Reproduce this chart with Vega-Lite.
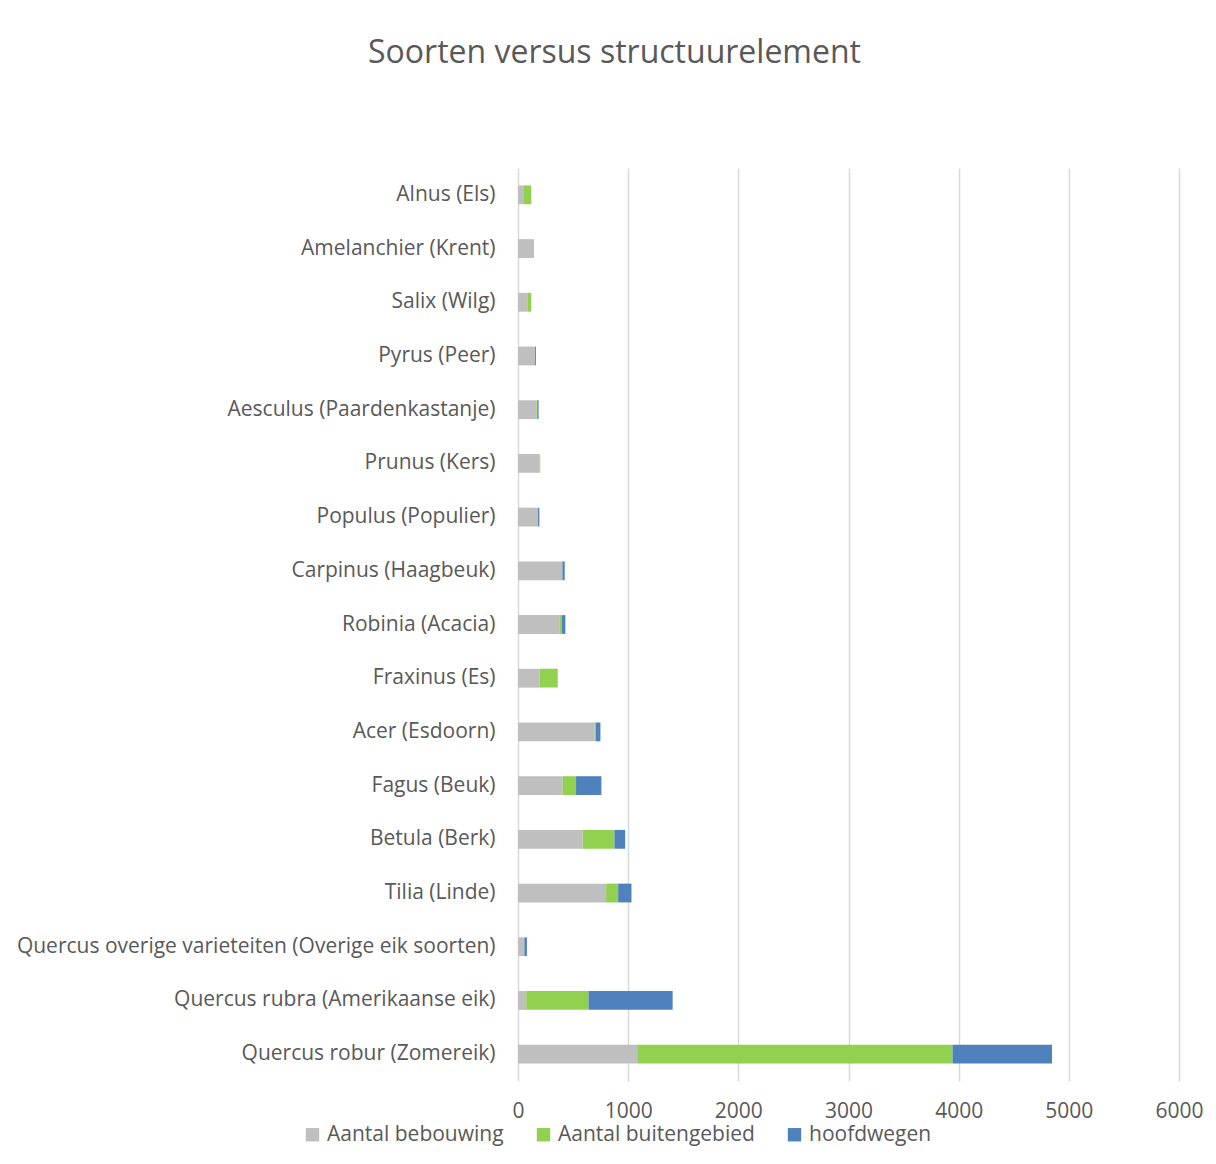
{
  "$schema": "https://vega.github.io/schema/vega-lite/v6.json",
  "width": 661,
  "height": 913,
  "autosize": {"type": "none"},
  "padding": {"left": 518, "top": 168, "right": 37, "bottom": 83},
  "background": "white",
  "title": {
    "text": "Soorten versus structuurelement",
    "fontSize": 32,
    "font": "Open Sans",
    "fontWeight": "normal",
    "color": "#595959",
    "anchor": "middle",
    "dx": -234,
    "offset": 98
  },
  "data": {
    "values": [
      {"soort": "Alnus (Els)", "type": "Aantal bebouwing", "aantal": 48},
      {"soort": "Alnus (Els)", "type": "Aantal buitengebied", "aantal": 73},
      {"soort": "Alnus (Els)", "type": "hoofdwegen", "aantal": 0},
      {"soort": "Amelanchier (Krent)", "type": "Aantal bebouwing", "aantal": 145},
      {"soort": "Amelanchier (Krent)", "type": "Aantal buitengebied", "aantal": 0},
      {"soort": "Amelanchier (Krent)", "type": "hoofdwegen", "aantal": 0},
      {"soort": "Salix (Wilg)", "type": "Aantal bebouwing", "aantal": 85},
      {"soort": "Salix (Wilg)", "type": "Aantal buitengebied", "aantal": 36},
      {"soort": "Salix (Wilg)", "type": "hoofdwegen", "aantal": 0},
      {"soort": "Pyrus (Peer)", "type": "Aantal bebouwing", "aantal": 155},
      {"soort": "Pyrus (Peer)", "type": "Aantal buitengebied", "aantal": 0},
      {"soort": "Pyrus (Peer)", "type": "hoofdwegen", "aantal": 8},
      {"soort": "Aesculus (Paardenkastanje)", "type": "Aantal bebouwing", "aantal": 167},
      {"soort": "Aesculus (Paardenkastanje)", "type": "Aantal buitengebied", "aantal": 8},
      {"soort": "Aesculus (Paardenkastanje)", "type": "hoofdwegen", "aantal": 12},
      {"soort": "Prunus (Kers)", "type": "Aantal bebouwing", "aantal": 197},
      {"soort": "Prunus (Kers)", "type": "Aantal buitengebied", "aantal": 5},
      {"soort": "Prunus (Kers)", "type": "hoofdwegen", "aantal": 0},
      {"soort": "Populus (Populier)", "type": "Aantal bebouwing", "aantal": 182},
      {"soort": "Populus (Populier)", "type": "Aantal buitengebied", "aantal": 0},
      {"soort": "Populus (Populier)", "type": "hoofdwegen", "aantal": 12},
      {"soort": "Carpinus (Haagbeuk)", "type": "Aantal bebouwing", "aantal": 403},
      {"soort": "Carpinus (Haagbeuk)", "type": "Aantal buitengebied", "aantal": 0},
      {"soort": "Carpinus (Haagbeuk)", "type": "hoofdwegen", "aantal": 21},
      {"soort": "Robinia (Acacia)", "type": "Aantal bebouwing", "aantal": 376},
      {"soort": "Robinia (Acacia)", "type": "Aantal buitengebied", "aantal": 21},
      {"soort": "Robinia (Acacia)", "type": "hoofdwegen", "aantal": 33},
      {"soort": "Fraxinus (Es)", "type": "Aantal bebouwing", "aantal": 197},
      {"soort": "Fraxinus (Es)", "type": "Aantal buitengebied", "aantal": 164},
      {"soort": "Fraxinus (Es)", "type": "hoofdwegen", "aantal": 0},
      {"soort": "Acer (Esdoorn)", "type": "Aantal bebouwing", "aantal": 697},
      {"soort": "Acer (Esdoorn)", "type": "Aantal buitengebied", "aantal": 9},
      {"soort": "Acer (Esdoorn)", "type": "hoofdwegen", "aantal": 42},
      {"soort": "Fagus (Beuk)", "type": "Aantal bebouwing", "aantal": 406},
      {"soort": "Fagus (Beuk)", "type": "Aantal buitengebied", "aantal": 121},
      {"soort": "Fagus (Beuk)", "type": "hoofdwegen", "aantal": 230},
      {"soort": "Betula (Berk)", "type": "Aantal bebouwing", "aantal": 588},
      {"soort": "Betula (Berk)", "type": "Aantal buitengebied", "aantal": 288},
      {"soort": "Betula (Berk)", "type": "hoofdwegen", "aantal": 97},
      {"soort": "Tilia (Linde)", "type": "Aantal bebouwing", "aantal": 800},
      {"soort": "Tilia (Linde)", "type": "Aantal buitengebied", "aantal": 109},
      {"soort": "Tilia (Linde)", "type": "hoofdwegen", "aantal": 121},
      {"soort": "Quercus overige varieteiten (Overige eik soorten)", "type": "Aantal bebouwing", "aantal": 58},
      {"soort": "Quercus overige varieteiten (Overige eik soorten)", "type": "Aantal buitengebied", "aantal": 0},
      {"soort": "Quercus overige varieteiten (Overige eik soorten)", "type": "hoofdwegen", "aantal": 23},
      {"soort": "Quercus rubra (Amerikaanse eik)", "type": "Aantal bebouwing", "aantal": 75},
      {"soort": "Quercus rubra (Amerikaanse eik)", "type": "Aantal buitengebied", "aantal": 565},
      {"soort": "Quercus rubra (Amerikaanse eik)", "type": "hoofdwegen", "aantal": 764},
      {"soort": "Quercus robur (Zomereik)", "type": "Aantal bebouwing", "aantal": 1082},
      {"soort": "Quercus robur (Zomereik)", "type": "Aantal buitengebied", "aantal": 2862},
      {"soort": "Quercus robur (Zomereik)", "type": "hoofdwegen", "aantal": 903}
    ]
  },
  "mark": {"type": "bar"},
  "encoding": {
    "y": {
      "field": "soort",
      "type": "nominal",
      "sort": [
        "Alnus (Els)", "Amelanchier (Krent)", "Salix (Wilg)", "Pyrus (Peer)",
        "Aesculus (Paardenkastanje)", "Prunus (Kers)", "Populus (Populier)",
        "Carpinus (Haagbeuk)", "Robinia (Acacia)", "Fraxinus (Es)", "Acer (Esdoorn)",
        "Fagus (Beuk)", "Betula (Berk)", "Tilia (Linde)",
        "Quercus overige varieteiten (Overige eik soorten)",
        "Quercus rubra (Amerikaanse eik)", "Quercus robur (Zomereik)"
      ],
      "scale": {"paddingInner": 0.65, "paddingOuter": 0.325},
      "axis": {
        "title": null,
        "domain": false,
        "ticks": false,
        "grid": false,
        "labelFont": "Open Sans",
        "labelFontSize": 21,
        "labelColor": "#595959",
        "labelPadding": 23,
        "labelLimit": 600
      }
    },
    "x": {
      "field": "aantal",
      "type": "quantitative",
      "stack": "zero",
      "scale": {"domain": [0, 6000], "nice": false},
      "axis": {
        "title": null,
        "values": [0, 1000, 2000, 3000, 4000, 5000, 6000],
        "format": "d",
        "domain": false,
        "ticks": false,
        "grid": true,
        "gridColor": "#D9D9D9",
        "gridWidth": 1.5,
        "labelFont": "Open Sans",
        "labelFontSize": 21,
        "labelColor": "#595959",
        "labelPadding": 19,
        "labelFlush": false
      }
    },
    "color": {
      "field": "type",
      "type": "nominal",
      "scale": {
        "domain": ["Aantal bebouwing", "Aantal buitengebied", "hoofdwegen"],
        "range": ["#BFBFBF", "#92D050", "#4F81BD"]
      },
      "legend": {
        "title": null,
        "orient": "none",
        "direction": "horizontal",
        "legendX": -216,
        "legendY": 956,
        "symbolType": "square",
        "symbolSize": 180,
        "symbolStrokeWidth": 0,
        "labelFont": "Open Sans",
        "labelFontSize": 21,
        "labelColor": "#595959",
        "labelOffset": 4,
        "labelLimit": 400,
        "columnPadding": 29
      }
    },
    "order": {"field": "type", "sort": "ascending"}
  },
  "config": {
    "view": {"stroke": null}
  }
}
